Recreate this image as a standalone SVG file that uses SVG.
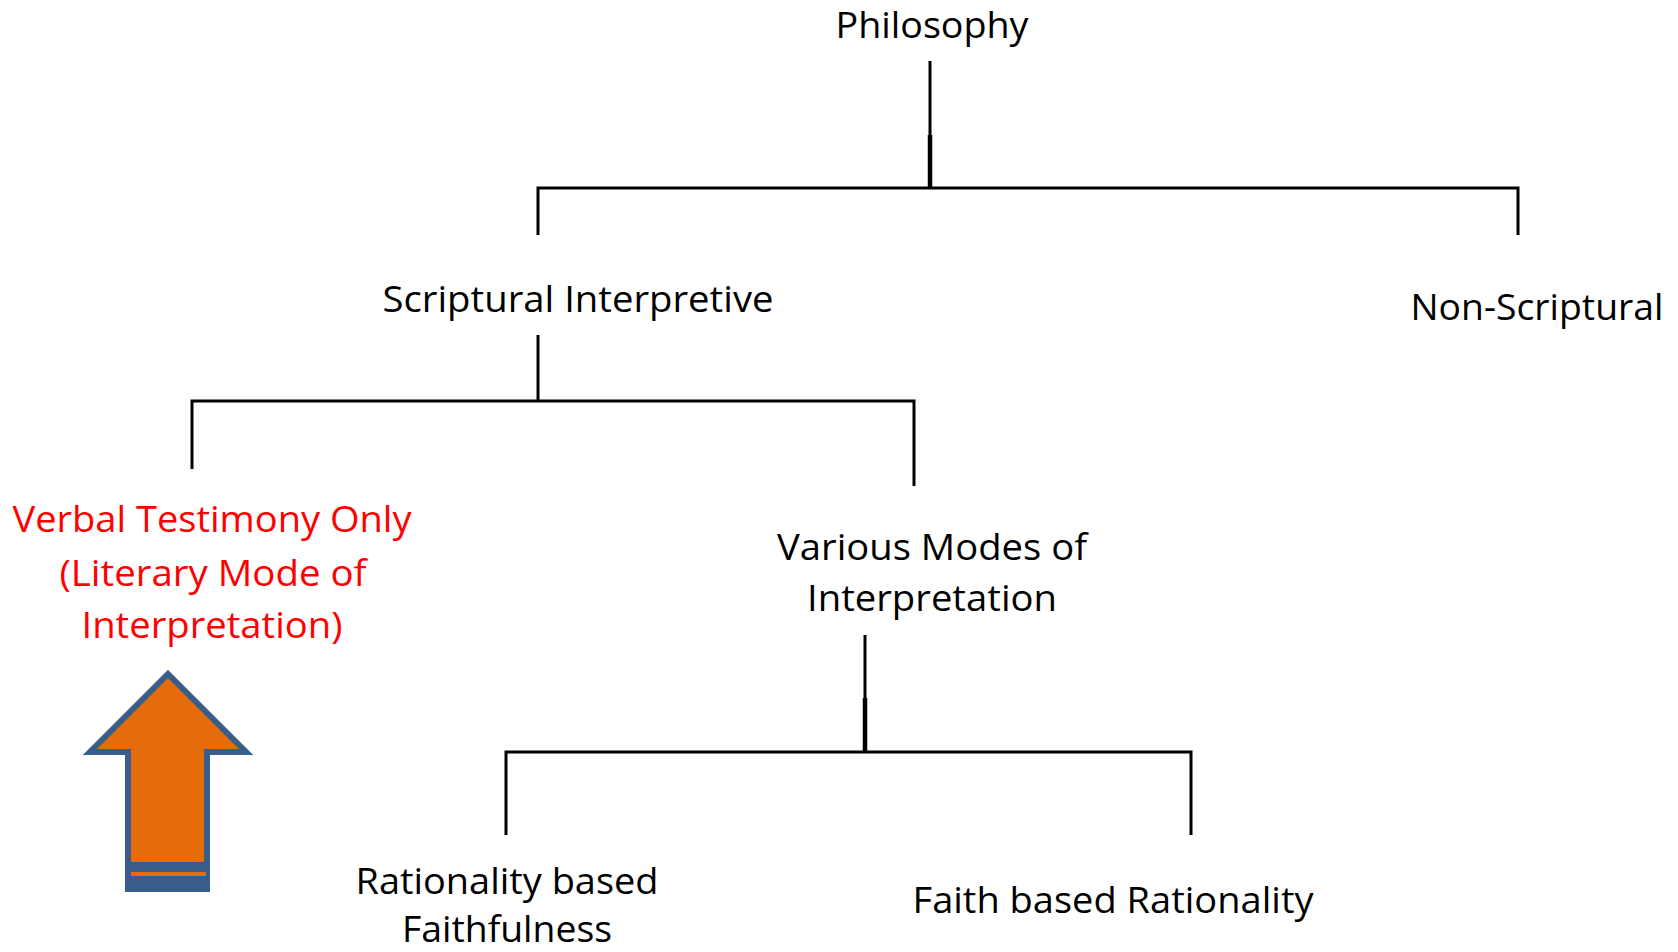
<svg xmlns="http://www.w3.org/2000/svg" width="1678" height="952" viewBox="0 0 1678 952">
<style>
.t{font-family:"Open Sans","Noto Sans","Liberation Sans",sans-serif;font-size:37px;fill:#000;text-anchor:middle}
.r{fill:#FF0000}
.c{stroke:#000;stroke-width:3;fill:none;stroke-linecap:butt}
.k{stroke:#000;stroke-width:4.5;fill:none}
</style>
<rect width="1678" height="952" fill="#fff"/>
<g id="connectors">
<line class="c" x1="930" y1="61" x2="930" y2="136"/>
<line class="k" x1="930" y1="135" x2="930" y2="189"/>
<polyline class="c" points="538,235 538,188 1518,188 1518,235"/>
<line class="c" x1="538" y1="335" x2="538" y2="402"/>
<polyline class="c" points="192,469 192,401 914,401 914,486"/>
<line class="c" x1="865" y1="635" x2="865" y2="699"/>
<line class="k" x1="865" y1="698" x2="865" y2="753"/>
<polyline class="c" points="506,835 506,752 1191,752 1191,835"/>
</g>
<g id="philosophy"><text class="t" x="932" y="38" textLength="193" lengthAdjust="spacingAndGlyphs">Philosophy</text></g>
<g id="scriptural"><text class="t" x="578" y="312" textLength="391" lengthAdjust="spacingAndGlyphs">Scriptural Interpretive</text></g>
<g id="nonscriptural"><text class="t" x="1537" y="320" textLength="253" lengthAdjust="spacingAndGlyphs">Non-Scriptural</text></g>
<g id="verbal">
<text class="t r" x="212" y="532" textLength="399" lengthAdjust="spacingAndGlyphs">Verbal Testimony Only</text>
<text class="t r" x="213" y="586" textLength="307" lengthAdjust="spacingAndGlyphs">(Literary Mode of</text>
<text class="t r" x="212" y="638" textLength="261" lengthAdjust="spacingAndGlyphs">Interpretation)</text>
</g>
<g id="various">
<text class="t" x="932" y="560" textLength="310" lengthAdjust="spacingAndGlyphs">Various Modes of</text>
<text class="t" x="932" y="611" textLength="250" lengthAdjust="spacingAndGlyphs">Interpretation</text>
</g>
<g id="rationality">
<text class="t" x="507" y="894" textLength="303" lengthAdjust="spacingAndGlyphs">Rationality based</text>
<text class="t" x="507" y="942" textLength="210" lengthAdjust="spacingAndGlyphs">Faithfulness</text>
</g>
<g id="faith"><text class="t" x="1113" y="913" textLength="401" lengthAdjust="spacingAndGlyphs">Faith based Rationality</text></g>
<g id="arrow">
<polygon points="168,674 246,752 207,752 207,889 128,889 128,752 90,752" fill="#E46C0A" stroke="#385D8A" stroke-width="6" stroke-linejoin="miter"/>
<rect x="125" y="862" width="85" height="30" fill="#385D8A"/>
<rect x="131" y="872" width="75" height="4" fill="#E46C0A"/>
</g>
</svg>
